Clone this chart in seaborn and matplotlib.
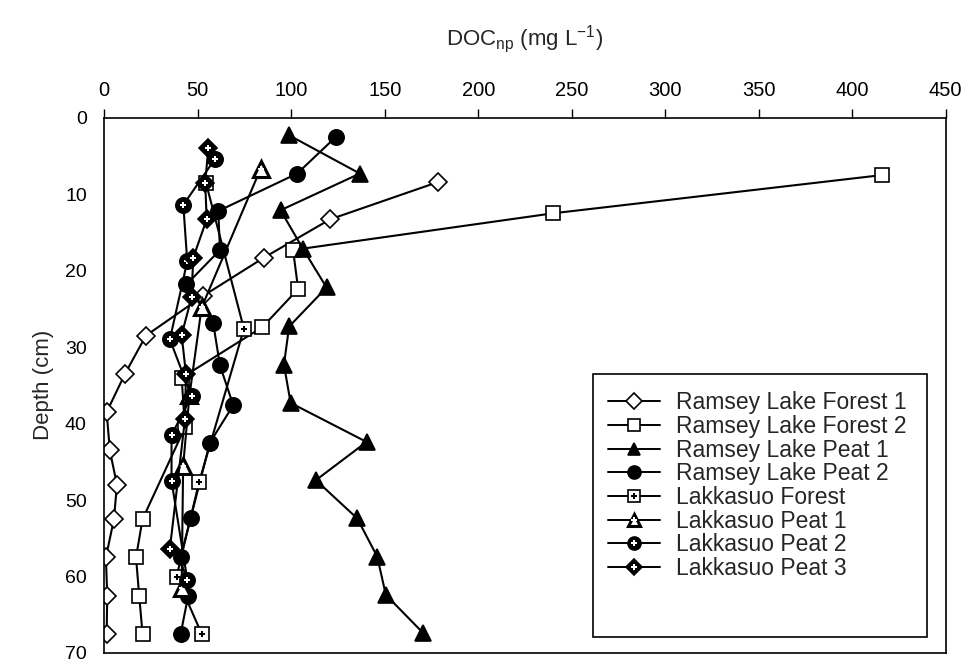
import matplotlib
matplotlib.use("Agg")
import matplotlib.pyplot as plt
import seaborn as sns
from matplotlib.lines import Line2D
from matplotlib.patches import Rectangle

# Datos: DOC (mg/L) frente a profundidad (cm)
rlf1_doc = [178.6, 120.7, 85.4, 52.9, 22.3, 11.1, 1.3, 3.0, 6.8, 5.2, 0.9, 1.6, 1.3]
rlf1_dep = [8.4, 13.3, 18.3, 23.3, 28.5, 33.5, 38.5, 43.5, 48.0, 52.5, 57.5, 62.5, 67.5]

rlf2_doc = [416, 240, 101, 103.7, 84.5, 41.4, 43.2, 20.5, 17.0, 18.7, 20.5]
rlf2_dep = [7.5, 12.5, 17.3, 22.4, 27.4, 34.0, 40.5, 52.5, 57.5, 62.5, 67.5]

rlp1_doc = [98.9, 136.7, 94.3, 106.4, 118.9, 98.9, 96.1, 99.7, 140.3, 113.2, 135.3, 146.0, 150.6, 170.6]
rlp1_dep = [2.3, 7.3, 12.1, 17.2, 22.2, 27.3, 32.3, 37.3, 42.4, 47.4, 52.4, 57.4, 62.4, 67.4]

rlp2_doc = [123.9, 103.2, 61.0, 61.9, 44.0, 58.3, 61.9, 69.0, 56.5, 46.2, 40.9, 44.9, 40.9]
rlp2_dep = [2.5, 7.3, 12.2, 17.3, 21.8, 26.9, 32.4, 37.6, 42.5, 52.4, 57.4, 62.5, 67.5]

lf_doc = [54.4, 74.7, 50.8, 38.7, 52.1]
lf_dep = [8.5, 27.6, 47.6, 60.0, 67.5]

lp1_doc = [83.6, 52.1, 45.6, 42.2, 41.4]
lp1_dep = [6.7, 24.8, 36.3, 45.5, 61.5]

lp2_doc = [59.2, 42.3, 44.4, 35.1, 46.7, 36.0, 36.0, 44.4]
lp2_dep = [5.4, 11.4, 18.8, 29.0, 36.4, 41.5, 47.5, 60.4]

lp3_doc = [55.7, 54.0, 54.8, 47.6, 46.7, 41.4, 43.7, 43.2, 35.1]
lp3_dep = [3.9, 8.5, 13.3, 18.3, 23.5, 28.4, 33.5, 39.4, 56.4]

nombres = ["Ramsey Lake Forest 1", "Ramsey Lake Forest 2", "Ramsey Lake Peat 1",
           "Ramsey Lake Peat 2", "Lakkasuo Forest", "Lakkasuo Peat 1",
           "Lakkasuo Peat 2", "Lakkasuo Peat 3"]

sns.set_style("white")
plt.rcParams['font.family'] = ['Liberation Sans', 'DejaVu Sans']

fig = plt.figure(figsize=(9.65, 6.64), dpi=100)
ax = fig.add_axes([0.108, 0.0166, 0.872, 0.8061])

# estilo de cada serie: (marcador, tamaño, relleno, marcador interior, color interior)
estilos = [
    ("D", 9, "white", None, None),
    ("s", 10, "white", None, None),
    ("^", 11, "black", None, None),
    ("o", 11, "black", None, None),
    ("s", 10, "white", "P", "black"),
    ("^", 11, "white", "P", "white"),
    ("o", 11, "black", "P", "white"),
    ("D", 9, "black", "P", "white"),
]
datos = [(rlf1_doc, rlf1_dep), (rlf2_doc, rlf2_dep), (rlp1_doc, rlp1_dep),
         (rlp2_doc, rlp2_dep), (lf_doc, lf_dep), (lp1_doc, lp1_dep),
         (lp2_doc, lp2_dep), (lp3_doc, lp3_dep)]

handles = []
for (xs, ys), nombre, (mk, ms, fc, inner, ic) in zip(datos, nombres, estilos):
    ew = 1.2
    if nombre == "Lakkasuo Peat 1":
        ew = 2.2
    sns.lineplot(x=xs, y=ys, sort=False, estimator=None, orient="y", ax=ax,
                 color="black", lw=1.5, marker=mk, markersize=ms,
                 markerfacecolor=fc, markeredgecolor="black",
                 markeredgewidth=ew, legend=False)
    h = [Line2D([], [], color="black", lw=1.4, marker=mk, markersize=ms * 0.85,
                markerfacecolor=fc, markeredgecolor="black", markeredgewidth=ew)]
    if inner is not None:
        ax.plot(xs, ys, ls="none", marker=inner, markersize=4.5, color=ic,
                markeredgewidth=0)
        h.append(Line2D([], [], ls="none", marker=inner, markersize=4,
                        color=ic, markeredgewidth=0))
    handles.append(tuple(h))

ax.set_xlim(0, 450)
ax.set_ylim(70, 0)
ax.set_xticks(range(0, 451, 50))
ax.set_yticks(range(0, 71, 10))
ax.xaxis.tick_top()
ax.xaxis.set_label_position("top")
ax.tick_params(axis="both", direction="out", length=6.5, width=1,
               colors="black", pad=6)
ax.tick_params(axis="x", labelsize=14.5)
ax.tick_params(axis="y", labelsize=14)
for s in ax.spines.values():
    s.set_color("black")
    s.set_linewidth(1.2)

ax.set_xlabel(r"DOC$_\mathregular{np}$ (mg L$^\mathregular{-1}$)", fontsize=16, labelpad=26)
ax.set_ylabel("Depth (cm)", fontsize=16, labelpad=8)

# caja de la leyenda (más alta que las entradas, como en el original)
ax.add_patch(Rectangle((0.581, 0.030), 0.397, 0.4915, transform=ax.transAxes,
                       fill=True, facecolor="white", edgecolor="black", lw=1.2,
                       zorder=5))
leg = ax.legend(handles, nombres, loc="upper left", bbox_to_anchor=(0.5987, 0.489),
                fontsize=16.5, frameon=False, handlelength=2.27,
                labelspacing=0.03, borderpad=0, borderaxespad=0, handletextpad=0.7)
leg.set_zorder(6)

fig.savefig("out.png", dpi=100)
